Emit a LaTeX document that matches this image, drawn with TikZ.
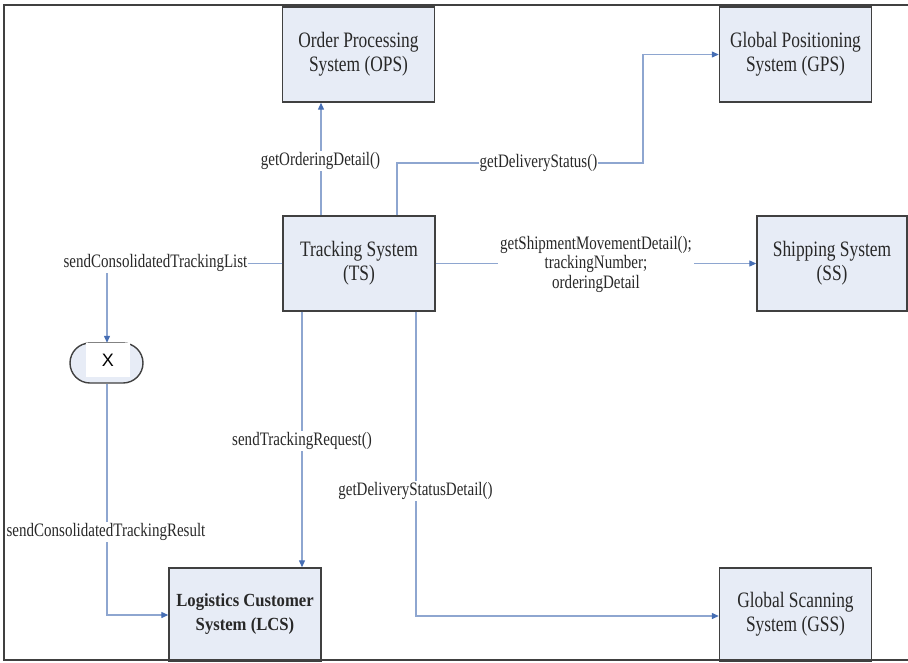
\documentclass[tikz,border=0pt]{standalone}
\usepackage{fontspec}
\setmainfont{Liberation Serif}[FakeStretch=0.79]
\newfontfamily\lcsfont{Liberation Serif}[FakeStretch=0.9]
\newfontfamily\xfont{Liberation Sans}
\usetikzlibrary{arrows.meta,shapes.misc}

\definecolor{boxfill}{RGB}{231,236,246}
\definecolor{boxline}{RGB}{64,64,64}
\definecolor{wire}{RGB}{142,166,208}
\definecolor{tipblue}{RGB}{70,110,180}
\definecolor{ink}{RGB}{40,40,40}

\tikzset{
  sysbox/.style={draw=boxline, line width=1.4pt, fill=boxfill, minimum width=152pt,
    minimum height=95pt, align=center, text=ink, font=\fontsize{22}{24}\selectfont,
    inner sep=0pt},
  wirel/.style={draw=wire, line width=1.2pt},
  arr/.style={wirel, -{Triangle[length=7pt,width=6pt,color=tipblue]}},
  lbl/.style={fill=white, text=ink, inner sep=1pt, align=center,
    font=\fontsize{19}{19.5}\selectfont},
}

\begin{document}
\begin{tikzpicture}[x=1pt,y=-1pt]
\useasboundingbox (0,0) rectangle (908,662);

% systems
\node[sysbox] (OPS) at (358.5,54.5) {Order Processing\\System (OPS)};
\node[sysbox] (GPS) at (795.5,54.5) {Global Positioning\\System (GPS)};
\node[sysbox] (TS)  at (359,263.5)  {Tracking System\\(TS)};
\node[sysbox, minimum width=150pt] (SS) at (832,263.5) {Shipping System\\(SS)};
\node[sysbox, minimum height=93pt, font=\lcsfont\bfseries\fontsize{18.5}{24}\selectfont]
  (LCS) at (245,614.5) {Logistics Customer\\System (LCS)};
\node[sysbox, minimum height=93pt] (GSS) at (795.5,614.5) {Global Scanning\\System (GSS)};

% merge point X
\node[draw=boxline, line width=1.4pt, fill=boxfill, rounded rectangle,
  minimum width=73pt, minimum height=40pt, inner sep=0pt] (xmerge) at (106.5,363) {};
\node[fill=white, minimum width=44pt, minimum height=34pt, inner sep=0pt,
  font=\xfont\fontsize{18}{18}\selectfont, text=black] (xbox) at (108,360) {X};

% routing points
\coordinate (opsx) at (321,0);
\coordinate (gpsa) at (397,163);
\coordinate (gpsb) at (643,163);
\coordinate (lcsx) at (302,0);
\coordinate (gssa) at (416,616);
\coordinate (listc) at (107,263.5);
\coordinate (resc) at (107,615);

% TS -> OPS
\draw[arr] (TS.north -| opsx) -- (OPS.south -| opsx);
\node[lbl] at (320.5,161) {getOrderingDetail()};

% TS -> GPS
\draw[arr] (TS.north -| gpsa) -- (gpsa) -- (gpsb) -- (GPS.west -| gpsb) -- (GPS.west);
\node[lbl] at (538.5,163) {getDeliveryStatus()};

% TS -> SS
\draw[arr] (TS.east) -- (SS.west);
\node[lbl, inner xsep=2pt] at (596,264) {getShipmentMovementDetail();\\trackingNumber;\\orderingDetail};

% TS -> LCS
\draw[arr] (TS.south -| lcsx) -- (LCS.north -| lcsx);
\node[lbl] at (302,441) {sendTrackingRequest()};

% TS -> GSS
\draw[arr] (TS.south -| gssa) -- (gssa) -- (gssa -| GSS.west);
\node[lbl] at (415.5,491) {getDeliveryStatusDetail()};

% TS -> X
\draw[arr] (TS.west) -- (listc) -- (xbox.north -| listc);
\node[lbl] at (155.5,263) {sendConsolidatedTrackingList};

% X -> LCS
\draw[arr] (xmerge.south -| resc) -- (resc) -- (resc -| LCS.west);
\node[lbl] at (106,532) {sendConsolidatedTrackingResult};

% frame
\draw[boxline, line width=1.4pt] (908,5) -- (4,5) -- (4,660) -- (908,660);
\end{tikzpicture}
\end{document}
